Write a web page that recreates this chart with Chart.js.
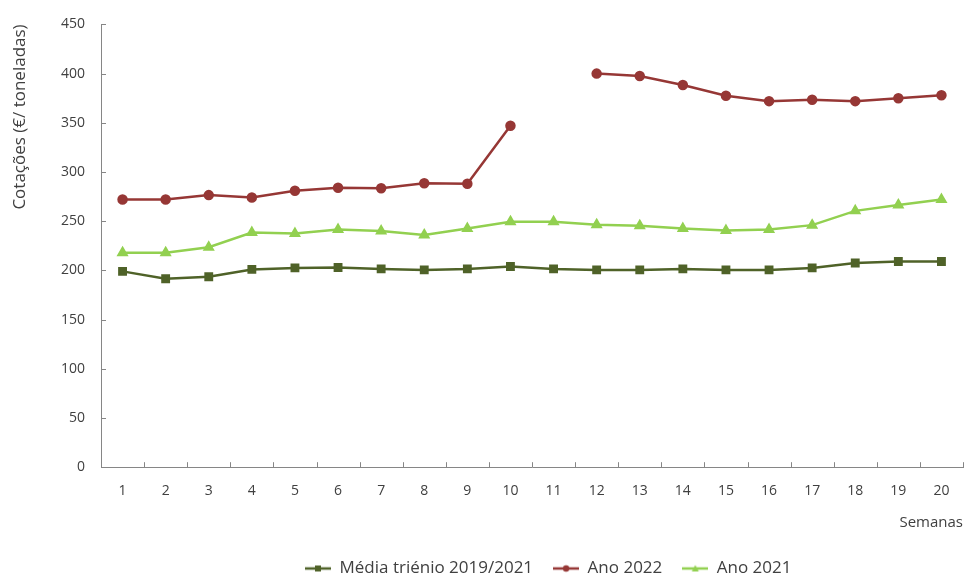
<!DOCTYPE html>
<html>
<head>
<meta charset="utf-8">
<script src="https://cdn.jsdelivr.net/npm/chart.js@4"></script>
<style>
html,body{margin:0;padding:0;background:#fff;}
#wrap{width:971px;height:577px;}
</style>
</head>
<body>
<div id="wrap"><canvas id="c"></canvas></div>
<script>
const weeks = ["1","2","3","4","5","6","7","8","9","10","11","12","13","14","15","16","17","18","19","20"];
const mediaTrienio = [199,191.5,193.5,201,202.5,203,201.5,200.5,201.5,204,201.5,200.5,200.5,201.5,200.5,200.5,202.5,207.5,209,209];
const ano2022 = [272,272,276.5,274,281,284,283.5,288.5,288,347,null,400,397.5,388.5,377.5,372,373.5,372,375,378];
const ano2021 = [218,218,223.5,238.5,237.5,241.5,240,236,242.5,249.5,249.5,246.5,245.5,242.5,240.5,241.5,246,260.5,266.5,272];
const yTicks = [0,50,100,150,200,250,300,350,400,450];

const cDark = 'rgb(79,98,40)';
const cRed = 'rgb(150,55,53)';
const cLight = 'rgb(146,208,80)';
const cText = '#404040';
const cAxis = '#868686';
const FONT = '"Open Sans", "Noto Sans", sans-serif';

function legendIcon(color, style){
  const cv = document.createElement('canvas');
  cv.width = 26; cv.height = 12;
  const g = cv.getContext('2d');
  g.strokeStyle = color; g.lineWidth = 2.5;
  g.beginPath(); g.moveTo(0,6); g.lineTo(26,6); g.stroke();
  g.fillStyle = color;
  if (style === 'rect') { g.fillRect(10,3,6,6); }
  else if (style === 'circle') { g.beginPath(); g.arc(13,6,3.2,0,Math.PI*2); g.fill(); }
  else { g.beginPath(); g.moveTo(13,2.5); g.lineTo(16.5,9); g.lineTo(9.5,9); g.closePath(); g.fill(); }
  return cv;
}
const icons = [legendIcon(cDark,'rect'), legendIcon(cRed,'circle'), legendIcon(cLight,'triangle')];

const legendPlace = {
  id: 'legendPlace',
  afterLayout(chart){
    const lg = chart.legend;
    if (!lg) return;
    const w = lg.right - lg.left;
    lg.left = 285; lg.right = 285 + w;
  }
};

// inward tick marks, positioned by the library's scales
const innerTicks = {
  id: 'innerTicks',
  afterDraw(chart){
    const {ctx, chartArea: a, scales: {x, y}} = chart;
    ctx.save();
    ctx.strokeStyle = cAxis; ctx.lineWidth = 1;
    ctx.beginPath();
    y.ticks.forEach((t, i) => {
      const py = Math.round(y.getPixelForTick(i)) + 0.5;
      ctx.moveTo(a.left, py); ctx.lineTo(a.left + 5, py);
    });
    const n = x.ticks.length;
    for (let i = 0; i <= n; i++) {
      let px;
      if (i === 0) px = a.left;
      else if (i === n) px = a.right;
      else px = (x.getPixelForTick(i - 1) + x.getPixelForTick(i)) / 2;
      px = Math.round(px) + 0.5;
      ctx.moveTo(px, a.bottom); ctx.lineTo(px, a.bottom - 5);
    }
    ctx.stroke();
    ctx.restore();
  }
};

new Chart(document.getElementById('c'), {
  type: 'line',
  data: {
    labels: weeks,
    datasets: [
      {label:'Média triénio 2019/2021', data: mediaTrienio, borderColor:cDark, backgroundColor:cDark, borderWidth:2.5, pointStyle:'rect', pointRadius:4.5, pointHoverRadius:4.5, tension:0},
      {label:'Ano 2022', data: ano2022, borderColor:cRed, backgroundColor:cRed, borderWidth:2.5, pointStyle:'circle', pointRadius:4, pointHoverRadius:4, spanGaps:false, tension:0},
      {label:'Ano 2021', data: ano2021, borderColor:cLight, backgroundColor:cLight, borderWidth:2.5, pointStyle:'triangle', pointRadius:4.5, pointHoverRadius:4.5, tension:0}
    ]
  },
  plugins: [legendPlace, innerTicks],
  options: {
    responsive: true,
    maintainAspectRatio: false,
    animation: false,
    devicePixelRatio: 1,
    layout: {padding: {left: 0, right: 8, top: 4, bottom: -10}},
    plugins: {
      tooltip: {enabled:false},
      legend: {
        position: 'bottom',
        align: 'start',
        labels: {
          usePointStyle: true,
          pointStyleWidth: 26,
          boxHeight: 12,
          padding: 20,
          color: cText,
          font: {family: FONT, size: 17},
          generateLabels(chart){
            const items = Chart.defaults.plugins.legend.labels.generateLabels(chart);
            items.forEach((it,i)=>{ it.pointStyle = icons[i]; });
            return items;
          }
        }
      }
    },
    scales: {
      x: {
        offset: true,
        grid: {display:false, drawTicks:false},
        border: {display:true, color:cAxis, width:1},
        ticks: {color:cText, font:{family:FONT, size:14}, padding:15, maxRotation:0, autoSkip:false},
        title: {display:true, text:'Semanas', align:'end', color:cText, font:{family:FONT, size:15}, padding:{top:0, bottom:8}}
      },
      y: {
        min: 0, max: 450,
        afterBuildTicks(scale){ scale.ticks = yTicks.map(v=>({value:v})); },
        afterFit(scale){ scale.width = 101; },
        grid: {display:false, drawTicks:false},
        border: {display:true, color:cAxis, width:1},
        ticks: {color:cText, font:{family:FONT, size:14}, padding:16},
        title: {display:true, text:'Cotações (€/ toneladas)', align:'end', color:cText, font:{family:FONT, size:17}, padding:{top:10, bottom:0}}
      }
    }
  }
});
</script>
</body>
</html>
